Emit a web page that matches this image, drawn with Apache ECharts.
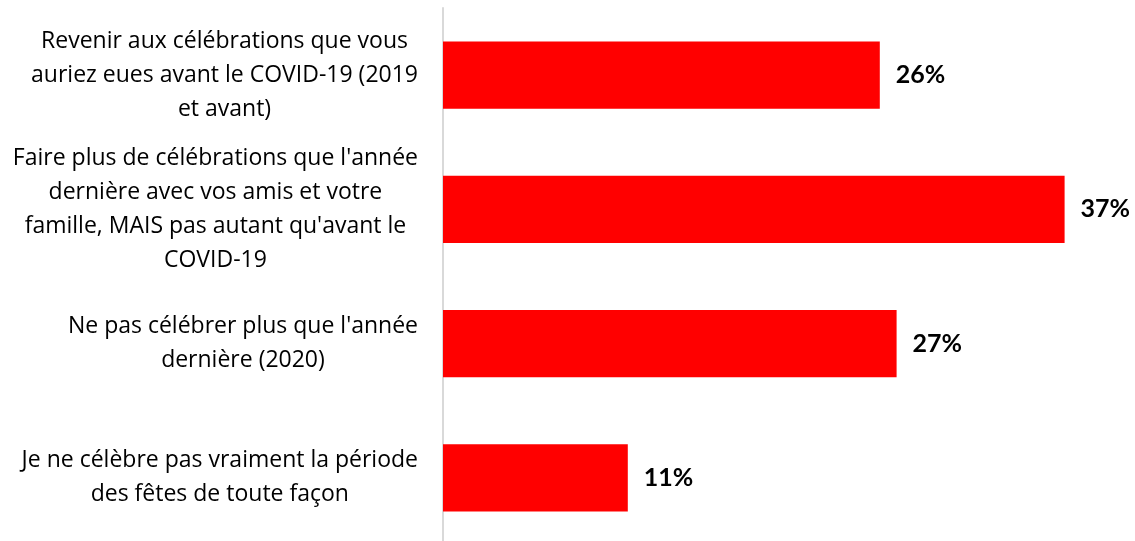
<!DOCTYPE html>
<html>
  <head>
    <meta charset="utf-8" />
    <script src="https://cdn.jsdelivr.net/npm/echarts@6.0.0/dist/echarts.min.js"></script>
  </head>
  <body style="margin:0;">
    <div id="main" style="width: 1135px;height:541px;"></div>
    <script type="text/javascript">
      var categories = [
        "Revenir aux célébrations que vous\nauriez eues avant le COVID-19 (2019\net avant)",
        "Faire plus de célébrations que l'année\ndernière avec vos amis et votre\nfamille, MAIS pas autant qu'avant le\nCOVID-19",
        "Ne pas célébrer plus que l'année\ndernière (2020)",
        "Je ne célèbre pas vraiment la période\ndes fêtes de toute façon"
      ];
      var values = [26, 37, 27, 11];

      var myChart = echarts.init(document.getElementById('main'));

      var option = {
        textStyle: { fontFamily: 'Open Sans' },
        grid: {
          left: 443,
          right: 20,
          top: 8,
          bottom: -4,
          containLabel: false,
          outerBoundsMode: 'none'
        },
        xAxis: {
          type: 'value',
          min: 0,
          max: 40,
          show: false
        },
        yAxis: {
          type: 'category',
          data: categories,
          inverse: true,
          axisLine: { lineStyle: { color: '#d9d9d9', width: 2 } },
          axisTick: { show: false },
          axisLabel: {
            margin: 25,
            align: 'right',
            // each line centred inside the right-aligned block
            formatter: function (v) {
              return v.split('\n').map(function (l) { return '{c|' + l + '}'; }).join('\n');
            },
            rich: {
              c: {
                align: 'center',
                fontFamily: 'Open Sans',
                fontSize: 23,
                lineHeight: 34,
                color: '#000'
              }
            }
          }
        },
        series: [
          {
            type: 'bar',
            data: values,
            barCategoryGap: '50%',
            itemStyle: { color: '#ff0000' },
            label: {
              show: true,
              position: 'right',
              distance: 16,
              formatter: '{c}%',
              fontFamily: 'Lato',
              fontWeight: 'bold',
              fontSize: 25,
              color: '#000'
            }
          }
        ]
      };

      myChart.setOption(option);
    </script>
  </body>
</html>
